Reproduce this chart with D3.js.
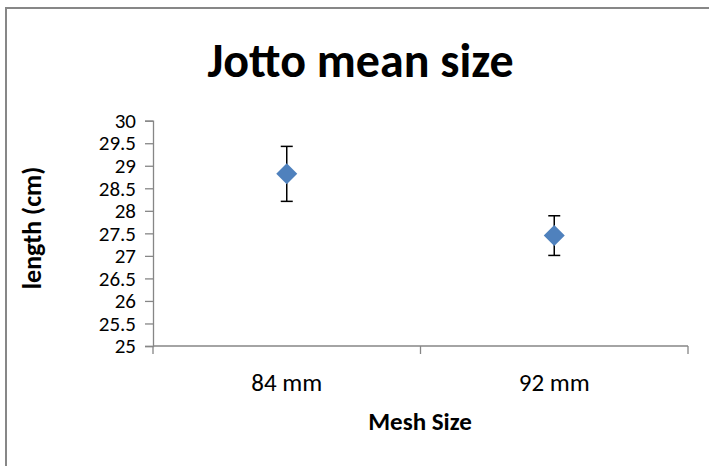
<!DOCTYPE html>
<html>
<head>
<meta charset="utf-8">
<script src="https://d3js.org/d3.v7.min.js"></script>
<style>
  body { margin: 0; background: #fff; }
  text { font-family: Carlito, Lato, "Open Sans", sans-serif; fill: #000; }
</style>
</head>
<body>
<svg id="frame"></svg>
<script>
  // data
  var categories = ["84 mm", "92 mm"];
  var means = [28.82, 27.45];
  var errors = [0.61, 0.44];
  var yTicks = [25, 25.5, 26, 26.5, 27, 27.5, 28, 28.5, 29, 29.5, 30];

  var width = 709, height = 466;
  var svg = d3.select('#frame')
    .attr('width', width)
    .attr('height', height);

  // chart border (only top and left edges show in the window)
  svg.append('rect')
    .attr('x', 6)
    .attr('y', 8)
    .attr('width', 760)
    .attr('height', 520)
    .attr('fill', 'none')
    .attr('stroke', '#878787')
    .attr('stroke-width', 2);

  var x = d3.scaleBand()
    .domain(categories)
    .range([153, 688])
    .padding(0);

  var y = d3.scaleLinear()
    .domain([25, 30])
    .range([346, 120.7]);

  var axisColor = '#868686';

  // y axis
  var yAxis = svg.append('g')
    .attr('transform', 'translate(153,0)')
    .call(d3.axisLeft(y).tickValues(yTicks).tickSize(8).tickPadding(9)
      .tickFormat(function(d){ return d; }));
  yAxis.select('.domain').attr('stroke', axisColor).attr('stroke-width', 1.3);
  yAxis.selectAll('.tick line').attr('stroke', axisColor).attr('stroke-width', 1.3);
  yAxis.selectAll('.tick text')
    .style('font-size', '21px')
    .attr('fill', '#000');

  // x axis
  var xAxis = svg.append('g')
    .attr('transform', 'translate(0,346)')
    .call(d3.axisBottom(x).tickSize(0).tickPadding(27));
  xAxis.select('.domain').attr('stroke', axisColor).attr('stroke-width', 1.3)
    .attr('d', 'M153,0H688');
  xAxis.selectAll('.tick text')
    .style('font-size', '25px')
    .attr('fill', '#000');

  // x tick marks sit on the band edges
  var edges = categories.map(function(c){ return x(c); }).concat([x.range()[1]]);
  svg.append('g')
    .selectAll('line')
    .data(edges)
    .enter().append('line')
    .attr('x1', function(d){ return d; })
    .attr('x2', function(d){ return d; })
    .attr('y1', 346)
    .attr('y2', 354)
    .attr('stroke', axisColor)
    .attr('stroke-width', 1.3);

  var pts = categories.map(function(c, i){
    return { cat: c, m: means[i], e: errors[i] };
  });
  var cx = function(d){ return x(d.cat) + x.bandwidth() / 2; };

  // error bars
  var eb = svg.append('g').selectAll('g')
    .data(pts)
    .enter().append('g');
  eb.append('line')
    .attr('x1', cx).attr('x2', cx)
    .attr('y1', function(d){ return y(d.m + d.e); })
    .attr('y2', function(d){ return y(d.m - d.e); })
    .attr('stroke', '#000').attr('stroke-width', 1.5);
  [1, -1].forEach(function(s){
    eb.append('line')
      .attr('x1', function(d){ return cx(d) - 6; })
      .attr('x2', function(d){ return cx(d) + 6; })
      .attr('y1', function(d){ return y(d.m + s * d.e); })
      .attr('y2', function(d){ return y(d.m + s * d.e); })
      .attr('stroke', '#000').attr('stroke-width', 1.5);
  });

  // diamonds
  svg.append('g').selectAll('path')
    .data(pts)
    .enter().append('path')
    .attr('d', 'M0,-10.5L10.5,0L0,10.5L-10.5,0Z')
    .attr('transform', function(d){ return 'translate(' + cx(d) + ',' + y(d.m) + ')'; })
    .attr('fill', '#4F81BD');

  // titles
  svg.append('text')
    .attr('x', 360.5)
    .attr('y', 77)
    .attr('text-anchor', 'middle')
    .style('font-size', '48px')
    .style('font-weight', 'bold')
    .text('Jotto mean size');

  svg.append('text')
    .attr('x', 420)
    .attr('y', 430)
    .attr('text-anchor', 'middle')
    .style('font-size', '25px')
    .style('font-weight', 'bold')
    .text('Mesh Size');

  svg.append('text')
    .attr('transform', 'translate(41,228) rotate(-90)')
    .attr('text-anchor', 'middle')
    .style('font-size', '26px')
    .style('font-weight', 'bold')
    .text('length (cm)');
</script>
</body>
</html>
